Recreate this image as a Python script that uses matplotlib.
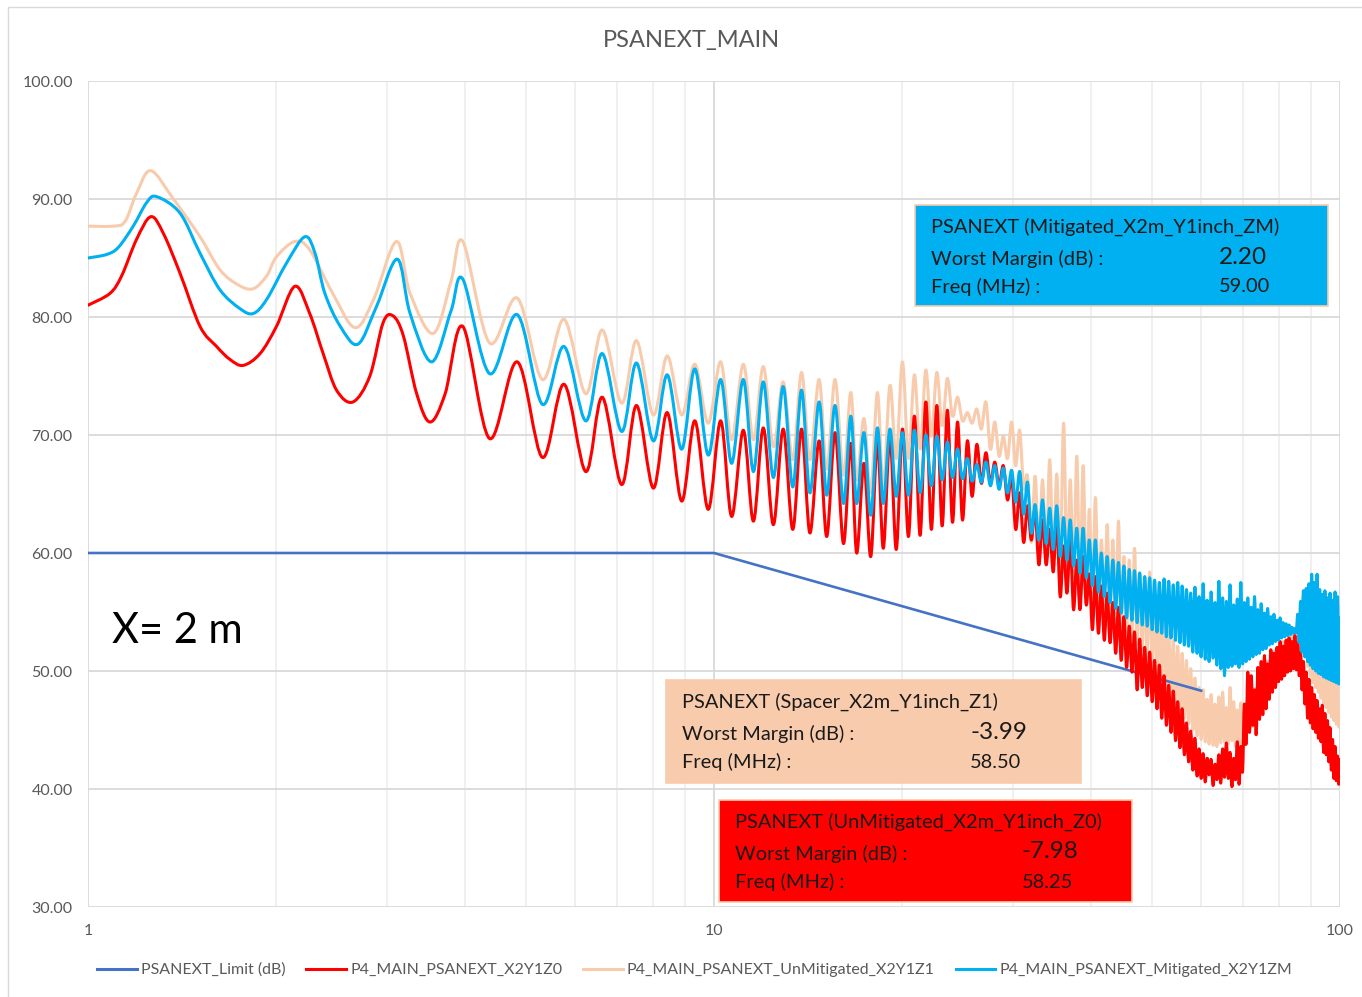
import numpy as np
import matplotlib.pyplot as plt
from matplotlib.path import Path
from matplotlib.patches import PathPatch, Rectangle
from matplotlib.lines import Line2D
from matplotlib.ticker import FixedLocator, NullFormatter

plt.rcParams['font.family'] = ['Lato', 'DejaVu Sans']

# --- limit line ---
limit_f = [1, 10, 60]
limit_v = [60.0, 60.0, 48.33]

# --- low-frequency part (1 - 3.9 MHz), read point by point ---
red_lo_f = [1.0, 1.084, 1.132, 1.196, 1.26, 1.319, 1.403, 1.51, 1.605, 1.686, 1.77, 1.883, 2.0,
            2.14, 2.26, 2.375, 2.495, 2.65, 2.82, 2.96, 3.07, 3.19, 3.35, 3.52, 3.72]
red_lo_v = [81.0, 82.0, 83.5, 86.6, 88.5, 87.1, 83.7, 79.2, 77.5, 76.4, 75.9, 76.9, 79.2,
            82.6, 80.3, 76.9, 73.8, 72.8, 75.0, 79.5, 80.1, 78.4, 73.5, 71.1, 73.5]

peach_lo_f = [1.0, 1.098, 1.146, 1.196, 1.26, 1.369, 1.51, 1.625, 1.74, 1.837, 1.93, 2.0,
              2.14, 2.26, 2.46, 2.67, 2.86, 3.11, 3.27, 3.56, 3.8]
peach_lo_v = [87.7, 87.7, 88.1, 90.5, 92.4, 90.0, 86.8, 84.0, 82.7, 82.4, 83.5, 85.1,
              86.4, 85.7, 82.0, 79.1, 81.5, 86.4, 82.0, 78.6, 83.0]

blue_lo_f = [1.0, 1.071, 1.118, 1.181, 1.241, 1.287, 1.403, 1.51, 1.625, 1.75, 1.837, 1.93,
             2.077, 2.22, 2.305, 2.39, 2.53, 2.70, 2.89, 3.12, 3.27, 3.54, 3.8]
blue_lo_v = [85.0, 85.3, 85.9, 87.7, 89.7, 90.2, 88.8, 85.4, 82.3, 80.7, 80.3, 81.5,
             84.6, 86.8, 85.4, 82.0, 79.2, 77.7, 80.9, 84.9, 80.3, 76.2, 80.5]

# --- 4 - 19 MHz: peak / trough frequencies shared by the three curves ---
mid_f = [3.97, 4.38, 4.85, 5.32, 5.76, 6.24, 6.63, 7.12, 7.52, 8.0, 8.42, 8.88, 9.32, 9.79,
         10.25, 10.67, 11.14, 11.56, 11.99, 12.44, 12.9, 13.36, 13.8, 14.23, 14.72, 15.14,
         15.61, 16.1, 16.54, 16.9, 17.36, 17.8, 18.24, 18.64]
red_mid = [79.2, 69.7, 76.2, 68.1, 74.3, 66.9, 73.2, 65.8, 72.5, 65.5, 71.9, 64.4, 71.2, 63.7,
           71.2, 63.1, 70.4, 62.7, 70.6, 62.4, 70.5, 62.0, 70.5, 61.7, 69.5, 61.4,
           70.2, 60.8, 69.3, 60.0, 67.6, 59.7, 69.5, 60.4]
peach_mid = [86.4, 77.8, 81.6, 74.7, 79.8, 73.5, 78.9, 72.7, 78.0, 71.7, 76.7, 71.7, 76.0, 71.0,
             76.2, 69.6, 76.0, 69.6, 75.8, 69.0, 74.5, 67.9, 75.3, 67.9, 74.7, 67.1,
             74.7, 66.6, 73.6, 66.2, 71.4, 65.1, 73.6, 65.6]
blue_mid = [83.2, 75.2, 80.2, 72.6, 77.5, 71.2, 76.9, 70.3, 76.1, 69.5, 75.1, 68.8, 75.6, 68.3,
            74.7, 67.6, 74.7, 66.9, 74.5, 66.4, 74.1, 65.6, 73.8, 65.1, 72.8, 64.9,
            72.5, 64.2, 71.6, 64.2, 70.2, 63.2, 70.6, 64.2]

# --- 19 - 100 MHz: peaks (even) and troughs (odd) on a 0.45 MHz sampling grid ---
hi_f = np.linspace(19.1, 100, 181)
red_hi = [69.9, 60.3, 70.5, 61.4, 71.6, 61.5, 72.8, 62.0, 72.5, 62.3,
          72.1, 62.6, 71.1, 62.8, 69.5, 64.8, 69.2, 65.9, 68.5, 65.9,
          67.7, 65.7, 67.4, 64.5, 66.5, 62.0, 65.1, 60.9, 64.0, 61.1,
          63.7, 59.0, 62.8, 59.0, 62.0, 58.4, 62.8, 56.3, 60.6, 56.6,
          61.1, 55.2, 59.4, 55.2, 59.7, 55.6, 58.2, 53.5, 58.0, 53.2,
          57.2, 52.6, 56.6, 52.4, 55.8, 51.5, 55.4, 50.9, 54.6, 50.3,
          53.8, 49.9, 53.3, 48.4, 52.7, 48.6, 52.0, 47.9, 51.6, 47.4,
          50.9, 46.8, 50.5, 46.0, 49.6, 45.4, 48.8, 44.8, 48.3, 44.1,
          47.4, 43.5, 46.8, 42.9, 45.6, 42.3, 44.9, 41.6, 44.3, 41.1,
          43.4, 40.9, 43.0, 40.6, 42.6, 41.2, 42.5, 40.3, 42.1, 40.8,
          42.9, 40.5, 43.4, 41.0, 43.9, 40.9, 43.1, 40.2, 42.6, 40.8,
          44.0, 40.4, 43.6, 41.5, 47.2, 43.8, 49.9, 44.8, 49.6, 45.4,
          48.4, 44.6, 50.3, 45.9, 50.8, 46.3, 51.3, 46.8, 50.6, 47.6,
          51.8, 48.2, 51.5, 48.6, 52.0, 49.1, 52.5, 49.3, 52.1, 49.6,
          52.6, 49.9, 52.8, 50.0, 52.5, 50.2, 53.0, 50.1, 52.4, 49.6,
          51.6, 48.4, 50.8, 47.2, 49.9, 46.0, 49.3, 45.6, 48.6, 45.1,
          48.0, 44.8, 47.5, 44.3, 46.8, 44.0, 47.1, 43.1, 46.4, 42.9,
          45.8, 42.3, 45.2, 41.6, 44.2, 40.9, 43.6, 40.7, 42.8, 40.4,
          42.5]
peach_hi = [74.2, 68.0, 76.2, 68.0, 75.1, 68.8, 75.5, 69.9, 75.3, 70.8,
            74.8, 71.6, 73.2, 71.2, 71.9, 71.0, 72.2, 70.5, 72.8, 68.8,
            71.1, 68.2, 69.9, 68.0, 71.1, 67.4, 70.4, 65.5, 66.5, 60.9,
            66.5, 60.2, 66.2, 59.8, 67.9, 59.4, 66.7, 58.8, 71.0, 58.5,
            66.2, 58.0, 68.2, 57.4, 67.4, 57.0, 63.7, 56.3, 64.7, 55.8,
            61.1, 55.3, 62.4, 54.9, 61.1, 54.3, 62.7, 53.8, 59.7, 53.3,
            59.4, 52.8, 60.4, 52.3, 58.3, 51.8, 57.6, 51.2, 58.4, 50.5,
            56.2, 49.8, 55.5, 49.2, 54.6, 48.5, 53.4, 47.8, 52.6, 47.1,
            52.1, 46.6, 51.5, 46.0, 50.9, 45.5, 50.2, 45.0, 49.4, 44.5,
            48.6, 44.2, 48.4, 44.0, 47.6, 43.8, 48.0, 43.7, 47.2, 43.6,
            47.8, 43.9, 48.2, 44.0, 46.9, 43.8, 48.6, 44.1, 47.4, 43.6,
            46.7, 43.5, 47.3, 43.8, 46.6, 44.3, 47.8, 44.8, 47.1, 45.3,
            48.5, 45.9, 49.0, 46.4, 49.6, 46.9, 50.4, 47.4, 50.8, 47.9,
            51.3, 48.4, 51.7, 48.8, 52.0, 49.1, 52.2, 49.4, 52.5, 49.8,
            52.7, 50.3, 52.9, 50.8, 53.1, 51.2, 53.4, 51.6, 54.5, 52.0,
            55.6, 52.4, 56.8, 51.8, 55.0, 50.4, 53.5, 49.6, 52.7, 49.0,
            52.4, 48.6, 51.8, 48.2, 51.3, 47.7, 50.9, 47.3, 50.6, 46.9,
            50.2, 46.5, 49.8, 46.1, 49.4, 45.8, 49.1, 45.5, 48.8, 45.3,
            46.5]
blue_hi = [70.5, 64.8, 70.2, 64.9, 70.4, 65.1, 70.0, 65.7, 69.9, 66.2,
           69.4, 66.4, 68.8, 66.3, 68.0, 66.1, 67.5, 66.0, 67.7, 65.7,
           67.4, 65.4, 67.2, 65.1, 67.0, 64.3, 66.9, 63.3, 66.0, 61.7,
           64.1, 61.1, 64.5, 60.8, 63.8, 60.3, 64.0, 59.7, 63.0, 59.4,
           62.8, 58.9, 62.1, 58.3, 62.1, 57.9, 61.1, 57.2, 61.1, 56.7,
           60.0, 56.3, 59.7, 55.8, 59.4, 55.3, 59.2, 54.9, 58.9, 54.5,
           58.6, 54.3, 58.5, 54.1, 58.3, 53.9, 58.0, 53.8, 57.9, 53.5,
           57.7, 53.3, 57.5, 53.2, 57.8, 52.9, 57.6, 52.8, 57.3, 52.6,
           57.5, 52.4, 57.2, 52.2, 56.9, 52.1, 56.6, 51.6, 57.1, 51.5,
           56.3, 51.2, 57.4, 51.0, 56.0, 50.8, 56.7, 51.1, 55.8, 50.5,
           57.6, 50.2, 56.2, 49.6, 55.9, 50.3, 57.3, 50.4, 55.6, 50.6,
           56.1, 50.3, 57.5, 50.6, 55.8, 50.8, 56.2, 51.0, 55.4, 51.2,
           56.3, 51.4, 55.2, 51.5, 55.7, 51.8, 54.9, 51.9, 55.3, 52.2,
           54.6, 52.3, 54.8, 52.5, 54.3, 52.6, 54.5, 52.8, 54.1, 52.9,
           54.0, 53.0, 53.9, 53.1, 53.7, 53.2, 53.6, 53.3, 54.8, 52.4,
           55.9, 51.6, 56.8, 51.2, 57.0, 50.8, 57.4, 50.5, 58.2, 50.2,
           57.5, 50.0, 58.2, 49.8, 56.9, 49.7, 56.5, 49.5, 56.8, 49.4,
           56.2, 49.3, 56.6, 49.2, 56.0, 49.1, 56.7, 49.0, 56.3, 48.9,
           54.5]

labels = ['PSANEXT_Limit (dB)', 'P4_MAIN_PSANEXT_X2Y1Z0',
          'P4_MAIN_PSANEXT_UnMitigated_X2Y1Z1', 'P4_MAIN_PSANEXT_Mitigated_X2Y1ZM']
colors = ['#4472c4', '#ff0000', '#f8cbad', '#00b0f0']

boxes = [
    # x0, y0, x1, y1 (pixels), face, title, margin, freq
    (915, 205, 1328, 306, '#00b0f0', 'PSANEXT (Mitigated_X2m_Y1inch_ZM)', '2.20', '59.00'),
    (666, 680, 1081, 783, '#f8cbad', 'PSANEXT (Spacer_X2m_Y1inch_Z1)', '-3.99', '58.50'),
    (719, 800, 1132, 902, '#ff0000', 'PSANEXT (UnMitigated_X2m_Y1inch_Z0)', '-7.98', '58.25'),
]
value_x = [1219, 970, 1022]


def smooth_path(f, v):
    """Excel-style smoothed line: Catmull-Rom through the points, in log-x space."""
    pts = np.column_stack([np.log10(f), v])
    ext = np.vstack([pts[0], pts, pts[-1]])
    verts = [pts[0]]
    codes = [Path.MOVETO]
    for i in range(len(pts) - 1):
        p0, p1, p2, p3 = ext[i], ext[i + 1], ext[i + 2], ext[i + 3]
        verts += [p1 + (p2 - p0) / 6, p2 - (p3 - p1) / 6, p2]
        codes += [Path.CURVE4] * 3
    verts = np.array(verts)
    verts[:, 0] = 10 ** verts[:, 0]
    return Path(verts, codes)


W, H = 1362, 997
fig = plt.figure(figsize=(W / 100, H / 100), dpi=100)
ax = fig.add_axes([88 / W, 1 - 907 / H, (1340 - 88) / W, (907 - 81) / H])

ax.set_xscale('log')
ax.set_xlim(1, 100)
ax.set_ylim(30, 100)
ax.set_xticks([1, 10, 100])
ax.set_xticklabels(['1', '10', '100'])
minors = [m * d for d in (1, 10) for m in range(2, 10)]
ax.xaxis.set_minor_locator(FixedLocator(minors))
ax.xaxis.set_minor_formatter(NullFormatter())
ax.set_yticks(np.arange(30, 101, 10))
ax.set_yticklabels([f'{t:.2f}' for t in np.arange(30, 101, 10)])
ax.tick_params(which='both', length=0, labelcolor='#595959', labelsize=11.5)
ax.tick_params(axis='y', pad=11)
ax.tick_params(axis='x', pad=12)
ax.grid(which='major', color='#d9d9d9', lw=1.3)
ax.grid(which='minor', axis='x', color='#efefef', lw=1.3)
ax.set_axisbelow(True)
for s in ax.spines.values():
    s.set_visible(False)

ax.plot(limit_f, limit_v, color=colors[0], lw=1.9, zorder=3)

curves = [
    (np.concatenate([peach_lo_f, mid_f, hi_f]), np.concatenate([peach_lo_v, peach_mid, peach_hi]), colors[2], 2),
    (np.concatenate([red_lo_f, mid_f, hi_f]), np.concatenate([red_lo_v, red_mid, red_hi]), colors[1], 4),
    (np.concatenate([blue_lo_f, mid_f, hi_f]), np.concatenate([blue_lo_v, blue_mid, blue_hi]), colors[3], 5),
]
for f, v, c, z in curves:
    ax.add_patch(PathPatch(smooth_path(f, v), fill=False, edgecolor=c, lw=2.2,
                           joinstyle='round', capstyle='round', zorder=z))

# chart border
fig.patches.append(Rectangle((8 / W, -0.05), 1.1, 1.05 - 7 / H, transform=fig.transFigure,
                             fill=False, edgecolor='#d9d9d9', lw=1.0))

fig.text(691.5 / W, 1 - 41 / H, 'PSANEXT_MAIN', ha='center', va='center', size=17, color='#595959')
fig.text(112 / W, 1 - 631 / H, 'X= 2 m', ha='left', va='center', size=30, color='black')

# annotation boxes
for (x0, y0, x1, y1, face, title, margin, freq), vx in zip(boxes, value_x):
    fig.patches.append(Rectangle((x0 / W, 1 - y1 / H), (x1 - x0) / W, (y1 - y0) / H,
                                 transform=fig.transFigure, facecolor=face,
                                 edgecolor='#f8cbad', lw=1.2, zorder=6))
    tx = (x0 + 16) / W
    tc = '#1a1a1a'
    fig.text(tx, 1 - (y0 + 22) / H, title, ha='left', va='center', size=14.4, color=tc, zorder=7)
    fig.text(tx, 1 - (y0 + 54) / H, 'Worst Margin (dB) :', ha='left', va='center', size=14.4, color=tc, zorder=7)
    fig.text(tx, 1 - (y0 + 82) / H, 'Freq (MHz) :', ha='left', va='center', size=14.4, color=tc, zorder=7)
    fig.text(vx / W, 1 - (y0 + 52) / H, margin, ha='left', va='center', size=17.5, color=tc, zorder=7)
    fig.text(vx / W, 1 - (y0 + 82) / H, freq, ha='left', va='center', size=14.4, color=tc, zorder=7)

handles = [Line2D([], [], color=c, lw=2.2) for c in colors]
fig.legend(handles, labels, loc='center', bbox_to_anchor=(694.5 / W, 1 - 970 / H), ncol=4,
           frameon=False, fontsize=11.5, handlelength=2.5, handletextpad=0.25,
           columnspacing=1.3, labelcolor='#595959', borderpad=0)

fig.savefig('out.png', dpi=100)
